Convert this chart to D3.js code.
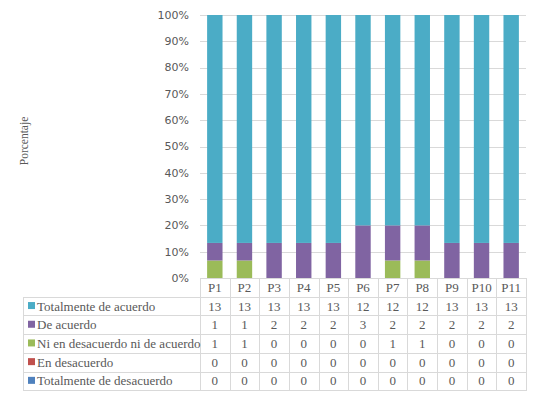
<!DOCTYPE html>
<html>
<head>
<meta charset="utf-8">
<script src="https://cdn.jsdelivr.net/npm/d3@7"></script>
<style>
  body { margin: 0; background: #fff; }
  svg { display: block; }
</style>
</head>
<body>
<div id="chart"></div>
<script>
const categories = ['P1', 'P2', 'P3', 'P4', 'P5', 'P6', 'P7', 'P8', 'P9', 'P10', 'P11']
const seriesNames = [
  'Totalmente de desacuerdo',
  'En desacuerdo',
  'Ni en desacuerdo ni de acuerdo',
  'De acuerdo',
  'Totalmente de acuerdo'
]
const totDesacuerdo = [0, 0, 0, 0, 0, 0, 0, 0, 0, 0, 0]
const enDesacuerdo = [0, 0, 0, 0, 0, 0, 0, 0, 0, 0, 0]
const niNi = [1, 1, 0, 0, 0, 0, 1, 1, 0, 0, 0]
const deAcuerdo = [1, 1, 2, 2, 2, 3, 2, 2, 2, 2, 2]
const totAcuerdo = [13, 13, 13, 13, 13, 12, 12, 12, 13, 13, 13]
const colors = ['#4F81BD', '#C0504D', '#9BBB59', '#8064A2', '#4BACC6']
const yTicks = [0, 0.1, 0.2, 0.3, 0.4, 0.5, 0.6, 0.7, 0.8, 0.9, 1]

const seriesValues = [totDesacuerdo, enDesacuerdo, niNi, deAcuerdo, totAcuerdo]
const rows = categories.map((c, i) => {
  const r = { cat: c }
  seriesNames.forEach((s, j) => (r[s] = seriesValues[j][i]))
  return r
})

const width = 540
const height = 396
const plotLeft = 200
const plotRight = 526
const plotTop = 15
const plotBottom = 278
const rowH = 18.7
const tableLeft = 23

const svg = d3.select('#chart').append('svg')
  .attr('width', width)
  .attr('height', height)

const x = d3.scaleBand().domain(categories).range([plotLeft, plotRight]).paddingInner(0).paddingOuter(0)
const y = d3.scaleLinear().domain([0, 1]).range([plotBottom, plotTop])

const stack = d3.stack().keys(seriesNames).offset(d3.stackOffsetExpand)
const stacked = stack(rows)

const sansFont = '"DejaVu Sans", Verdana, sans-serif'
const serifFont = '"Liberation Serif", "Times New Roman", serif'
const serifSize = 13
const gridColor = '#d9d9d9'
const textColor = '#595959'

// gridlines
svg.append('g')
  .selectAll('line')
  .data(yTicks)
  .join('line')
  .attr('x1', plotLeft)
  .attr('x2', plotRight)
  .attr('y1', (d) => Math.round(y(d)) + 0.5)
  .attr('y2', (d) => Math.round(y(d)) + 0.5)
  .attr('stroke', gridColor)

// tick labels
svg.append('g')
  .selectAll('text')
  .data(yTicks)
  .join('text')
  .attr('x', 189)
  .attr('y', (d) => y(d))
  .attr('dy', '0.35em')
  .attr('text-anchor', 'end')
  .attr('font-family', sansFont)
  .attr('font-size', 11)
  .attr('fill', textColor)
  .text(d3.format('.0%'))

// bars
const barW = x.bandwidth() * 0.52
svg.append('g')
  .selectAll('g')
  .data(stacked)
  .join('g')
  .attr('fill', (d, i) => colors[i])
  .selectAll('rect')
  .data((d) => d)
  .join('rect')
  .attr('x', (d) => x(d.data.cat) + (x.bandwidth() - barW) / 2)
  .attr('width', barW)
  .attr('y', (d) => y(d[1]))
  .attr('height', (d) => y(d[0]) - y(d[1]))

// y axis title
svg.append('text')
  .attr('transform', 'translate(28,141) rotate(-90)')
  .attr('text-anchor', 'middle')
  .attr('font-family', serifFont)
  .attr('font-size', 11.5)
  .attr('fill', textColor)
  .text('Porcentaje')

// data table
const table = svg.append('g')
const tableRows = seriesNames.slice().reverse()
const tableColors = colors.slice().reverse()
const tableValues = seriesValues.slice().reverse()
const tableBottom = plotBottom + rowH * (tableRows.length + 1)

// horizontal lines
table.append('line')
  .attr('x1', plotLeft).attr('x2', plotRight)
  .attr('y1', plotBottom + 0.5).attr('y2', plotBottom + 0.5)
  .attr('stroke', gridColor)
d3.range(1, tableRows.length + 2).forEach((k) => {
  const yy = Math.round(plotBottom + rowH * k) + 0.5
  table.append('line')
    .attr('x1', tableLeft).attr('x2', plotRight)
    .attr('y1', yy).attr('y2', yy)
    .attr('stroke', gridColor)
})

// vertical lines
const colEdges = categories.map((c) => x(c)).concat([plotRight])
colEdges.forEach((xx) => {
  table.append('line')
    .attr('x1', Math.round(xx) + 0.5).attr('x2', Math.round(xx) + 0.5)
    .attr('y1', plotBottom).attr('y2', Math.round(tableBottom) + 1)
    .attr('stroke', gridColor)
})
table.append('line')
  .attr('x1', tableLeft + 0.5).attr('x2', tableLeft + 0.5)
  .attr('y1', Math.round(plotBottom + rowH) + 0.5).attr('y2', Math.round(tableBottom) + 1)
  .attr('stroke', gridColor)

// category header
table.append('g')
  .selectAll('text')
  .data(categories)
  .join('text')
  .attr('x', (d) => x(d) + x.bandwidth() / 2)
  .attr('y', plotBottom + rowH / 2)
  .attr('dy', '0.35em')
  .attr('text-anchor', 'middle')
  .attr('font-family', serifFont)
  .attr('font-size', serifSize)
  .attr('fill', textColor)
  .text((d) => d)

// rows
tableRows.forEach((name, r) => {
  const cy = plotBottom + rowH * (r + 1.5)
  table.append('rect')
    .attr('x', 28).attr('y', cy - 4)
    .attr('width', 7).attr('height', 7)
    .attr('fill', tableColors[r])
  table.append('text')
    .attr('x', 37).attr('y', cy)
    .attr('dy', '0.35em')
    .attr('font-family', serifFont)
    .attr('font-size', serifSize)
    .attr('fill', textColor)
    .text(name)
  table.append('g')
    .selectAll('text')
    .data(tableValues[r])
    .join('text')
    .attr('x', (d, i) => x(categories[i]) + x.bandwidth() / 2)
    .attr('y', cy)
    .attr('dy', '0.35em')
    .attr('text-anchor', 'middle')
    .attr('font-family', serifFont)
    .attr('font-size', serifSize)
    .attr('fill', textColor)
    .text((d) => d)
})
</script>
</body>
</html>
